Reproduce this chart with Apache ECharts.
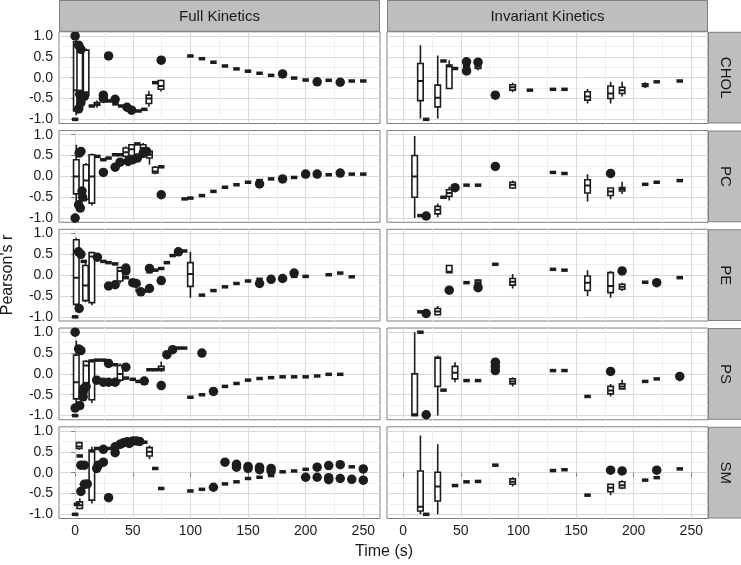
<!DOCTYPE html>
<html>
<head>
<meta charset="utf-8">
<script src="https://cdn.jsdelivr.net/npm/echarts@6.0.0/dist/echarts.min.js"></script>
<style>
html,body{margin:0;padding:0;background:#fff;}
#chart{width:741px;height:565px;}
</style>
</head>
<body>
<div id="chart"></div>
<script>
// ---------- labels / ticks ----------
const rowNames = ['CHOL', 'PC', 'PE', 'PS', 'SM'];
const colNames = ['Full Kinetics', 'Invariant Kinetics'];
const xTicks = [0, 50, 100, 150, 200, 250];
const yTicks = [-1, -0.5, 0, 0.5, 1];
const xTitle = 'Time (s)';
const yTitle = "Pearson's r";

// ---------- data: boxes [t, lower whisker, Q1, median, Q3, upper whisker] ----------
// flat = boxes with (almost) no spread [t, value]; pts = outliers [t, value]

// CHOL - Full
const cholFullBoxes = [[1,-0.9,-0.8,-0.3,0.86,0.9],[4,-0.85,-0.73,-0.5,0.78,0.85],[9.5,-0.5,-0.42,-0.35,0.66,0.7],
  [19,-0.72,-0.66,-0.64,-0.6,-0.55],[64,-0.7,-0.62,-0.5,-0.42,-0.32],[74.5,-0.33,-0.28,-0.2,-0.07,-0.05]];
const cholFullFlat = [[0,-1.0],[14.5,-0.68],[24.5,-0.52],[29,-0.56],[35,-0.63],[40,-0.68],[45,-0.72],[55,-0.8],[60,-0.76],
  [69.5,-0.12],[100,0.52],[110,0.455],[120,0.37],[130,0.28],[140,0.21],[150,0.155],[160,0.105],[170,0.056],[180,0.04],
  [190,-0.01],[200,-0.057],[210,-0.08],[220,-0.064],[230,-0.09],[240,-0.08],[250,-0.08]];
const cholFullPts = [[0,1.0],[3,0.78],[5,0.68],[4,-0.4],[6,-0.47],[3,-0.75],[5,-0.6],[8,-0.45],[29,0.52],[24.5,-0.42],
  [24.5,-0.5],[34.7,-0.52],[45,-0.71],[49,-0.78],[74.7,0.42],[180,0.09],[210,-0.1],[230,-0.11]];

// CHOL - Invariant
const cholInvBoxes = [[15,-0.98,-0.55,-0.08,0.34,0.78],[30,-0.98,-0.7,-0.48,-0.18,0.53],[40,-0.26,-0.26,0.27,0.3,0.42],
  [55,0.2,0.24,0.28,0.32,0.36],[65,0.18,0.22,0.26,0.3,0.33],[95,-0.35,-0.3,-0.23,-0.17,-0.12],
  [160,-0.62,-0.54,-0.45,-0.34,-0.27],[180,-0.62,-0.5,-0.38,-0.2,-0.1],[190,-0.45,-0.38,-0.3,-0.23,-0.1],
  [210,-0.25,-0.21,-0.18,-0.15,-0.11]];
const cholInvFlat = [[20,-1.0],[35,0.4],[45,0.22],[110,-0.3],[130,-0.28],[140,-0.28],[220,-0.1],[240,-0.08]];
const cholInvPts = [[55,0.38],[55,0.16],[65,0.37],[80,-0.42]];

// PC - Full
const pcFullBoxes = [[1,-0.75,-0.42,0.0,0.4,0.76],[4,-0.82,-0.8,-0.76,-0.72,-0.65],[9.5,-0.6,-0.55,-0.1,0.28,0.32],
  [14.5,-0.7,-0.64,0.0,0.52,0.55],[44,0.4,0.48,0.58,0.68,0.72],[49,0.45,0.5,0.65,0.76,0.78],
  [59,0.5,0.6,0.68,0.76,0.8],[64.5,0.28,0.44,0.52,0.6,0.65],[69.5,0.05,0.08,0.12,0.22,0.25]];
const pcFullFlat = [[19.3,0.48],[24.5,0.4],[29,0.44],[34.7,0.52],[39,0.52],[54,0.78],[74.7,0.23],[95,-0.54],[100,-0.52],
  [110,-0.46],[120,-0.36],[130,-0.26],[140,-0.2],[150,-0.14],[160,-0.1],[170,-0.06],[180,-0.07],[190,-0.025],
  [200,0.04],[210,0.05],[220,0.04],[230,0.06],[240,0.055],[250,0.055]];
const pcFullPts = [[0,-1.0],[3,-0.68],[4.5,-0.76],[3.5,0.56],[5,0.6],[6.5,-0.5],[6,-0.35],[24.5,0.095],[34.7,0.22],
  [39,0.34],[46,0.36],[50,0.4],[54,0.44],[59,0.55],[62,0.6],[74.7,-0.44],[160,-0.18],[180,-0.06],[200,0.055],
  [210,0.055],[230,0.08]];

// PC - Invariant
const pcInvBoxes = [[10,-1.0,-0.5,0.0,0.5,0.97],[30,-0.98,-0.9,-0.8,-0.72,-0.65],[40,-0.58,-0.48,-0.4,-0.32,-0.25],
  [95,-0.3,-0.28,-0.2,-0.14,-0.1],[160,-0.6,-0.4,-0.22,-0.08,0.05],[180,-0.55,-0.46,-0.36,-0.28,-0.28],
  [190,-0.42,-0.35,-0.3,-0.27,-0.13]];
const pcInvFlat = [[15,-0.94],[35,-0.5],[45,-0.3],[55,-0.21],[65,-0.21],[130,0.095],[140,0.07],[210,-0.19],[220,-0.14],[240,-0.1]];
const pcInvPts = [[20,-0.95],[45,-0.27],[80,0.24],[180,0.07]];

// PE - Full
const peFullBoxes = [[1,-0.75,-0.7,-0.06,0.85,0.9],[3.5,-0.85,-0.82,-0.78,-0.75,-0.72],[9,-0.65,-0.61,-0.25,0.23,0.3],
  [14.5,-0.72,-0.66,0.45,0.54,0.56],[39,-0.2,-0.14,0.1,0.18,0.2],[100,-0.54,-0.27,0.03,0.3,0.56]];
const peFullFlat = [[0,-1.0],[7.5,0.33],[19,0.45],[24.5,0.33],[29,0.3],[34.7,0.27],[44,-0.06],[50,-0.15],[55,-0.36],
  [60,-0.38],[64.5,0.08],[69.5,0.12],[74.7,0.16],[79.6,0.3],[84.6,0.47],[89.6,0.55],[94.6,0.58],[110,-0.48],
  [120,-0.37],[130,-0.28],[140,-0.2],[150,-0.14],[160,-0.1],[170,-0.12],[180,-0.1],[190,-0.03],[200,-0.03],
  [220,0.01],[230,0.05],[240,-0.04]];
const peFullPts = [[3,0.56],[5,0.5],[3.5,-0.8],[19.3,0.43],[29,-0.26],[34.7,-0.23],[44,0.1],[44,0.17],[50,-0.18],
  [53,-0.2],[57,-0.4],[64.5,-0.32],[64.5,0.16],[74.7,-0.13],[89.6,0.56],[160,-0.2],[170,-0.1],[180,-0.08],[190,0.05]];

// PE - Invariant
const peInvBoxes = [[30,-0.96,-0.95,-0.87,-0.8,-0.74],[40,0.06,0.06,0.08,0.23,0.23],[65,-0.25,-0.22,-0.17,-0.12,-0.1],
  [95,-0.32,-0.24,-0.16,-0.08,0.03],[160,-0.5,-0.37,-0.18,-0.02,0.12],[180,-0.54,-0.42,-0.26,0.06,0.1],
  [190,-0.38,-0.34,-0.28,-0.22,-0.18]];
const peInvFlat = [[15,-0.88],[55,-0.18],[80,0.26],[130,0.14],[140,0.12],[210,-0.17],[220,-0.16],[240,-0.06]];
const peInvPts = [[20,-0.92],[40,-0.36],[65,-0.3],[190,0.1],[220,-0.18]];

// PS - Full
const psFullBoxes = [[1,-0.75,-0.6,-0.2,0.45,0.8],[4,-0.85,-0.82,-0.8,-0.75,-0.7],[9.5,-0.45,-0.37,0.2,0.3,0.33],
  [14.5,-0.7,-0.62,0.3,0.33,0.36],[39,-0.2,-0.15,0.0,0.2,0.25],[74.7,0.05,0.08,0.12,0.18,0.3]];
const psFullFlat = [[0,-1.0],[19,0.33],[24.5,0.33],[29,0.3],[34.7,0.22],[44,-0.1],[50,-0.13],[55,-0.18],[60,-0.22],
  [64.5,0.1],[69.5,0.1],[84.6,0.62],[89.6,0.62],[94.6,0.62],[100,-0.56],[110,-0.5],[120,-0.42],[130,-0.3],
  [140,-0.23],[150,-0.15],[160,-0.11],[170,-0.09],[180,-0.07],[190,-0.07],[200,-0.07],[210,-0.05],[220,-0.01],[230,-0.01]];
const psFullPts = [[0,1.0],[0,-0.82],[3,0.6],[5,0.56],[4,-0.76],[7,-0.55],[7,-0.43],[7.5,-0.35],[9.5,-0.3],
  [18.7,-0.15],[24.5,-0.2],[29,-0.2],[34.7,-0.2],[29,0.25],[44,0.16],[60,-0.17],[74.7,-0.28],[79.6,0.46],
  [84.6,0.58],[110,0.5],[120,-0.42]];

// PS - Invariant
const psInvBoxes = [[10,-1.0,-1.0,-0.97,0.0,1.0],[30,-1.0,-0.3,0.38,0.4,0.44],[45,-0.2,-0.12,0.03,0.18,0.28],
  [95,-0.3,-0.24,-0.18,-0.12,-0.08],[180,-0.54,-0.48,-0.4,-0.3,-0.24],[190,-0.36,-0.36,-0.3,-0.24,-0.14]];
const psInvFlat = [[15,1.0],[35,-0.39],[55,-0.16],[65,-0.16],[130,0.08],[140,0.08],[160,-0.54],[210,-0.18],[220,-0.12]];
const psInvPts = [[20,-0.98],[80,0.28],[80,0.18],[80,0.08],[180,0.06],[240,-0.06]];

// SM - Full
const smFullBoxes = [[3.5,0.55,0.58,0.63,0.72,0.74],[4,-0.88,-0.86,-0.78,-0.7,-0.62],[14.5,-0.74,-0.66,0.5,0.54,0.62],
  [64.5,0.32,0.4,0.5,0.6,0.65]];
const smFullFlat = [[0,-1.0],[1.5,-0.76],[4,0.4],[19,0.58],[24.5,0.58],[29,0.58],[34.7,0.6],[60,0.73],[69.5,0.1],
  [74.7,-0.38],[100,-0.44],[110,-0.4],[130,-0.27],[140,-0.22],[150,-0.14],[160,-0.11],[170,-0.07],[180,0.02],
  [190,0.04],[200,0.08],[240,0.14]];
const smFullPts = [[5,0.18],[8,0.18],[5,-0.45],[8,-0.28],[10.5,-0.27],[18.7,0.1],[20,0.18],[24.5,0.25],[29,-0.6],
  [24.5,0.56],[34.7,0.62],[34.7,0.48],[39,0.68],[42,0.72],[45,0.74],[47,0.7],[50,0.76],[53,0.76],[56,0.75],
  [120,-0.35],[130,0.25],[140,0.2],[140,0.13],[150,0.15],[150,0.1],[160,0.13],[160,0.07],[170,0.1],[170,0.04],
  [200,-0.11],[210,-0.11],[210,0.13],[220,-0.12],[220,-0.17],[220,0.17],[230,0.19],[230,-0.14],[240,-0.16],
  [250,0.09],[250,-0.18]];

// SM - Invariant
const smInvBoxes = [[15,-1.0,-0.92,-0.82,0.04,0.89],[30,-1.0,-0.68,-0.33,0.01,0.68],[95,-0.33,-0.28,-0.22,-0.15,-0.11],
  [180,-0.54,-0.46,-0.36,-0.28,-0.28],[190,-0.4,-0.37,-0.3,-0.22,-0.18]];
const smInvFlat = [[20,-1.0],[45,-0.31],[55,-0.22],[65,-0.21],[80,0.18],[130,0.05],[140,0.07],[160,-0.54],
  [210,-0.18],[220,-0.12],[240,0.09]];
const smInvPts = [[180,0.06],[190,0.04],[220,0.06]];

const panelData = [
  [[cholFullBoxes, cholFullFlat, cholFullPts], [cholInvBoxes, cholInvFlat, cholInvPts]],
  [[pcFullBoxes, pcFullFlat, pcFullPts], [pcInvBoxes, pcInvFlat, pcInvPts]],
  [[peFullBoxes, peFullFlat, peFullPts], [peInvBoxes, peInvFlat, peInvPts]],
  [[psFullBoxes, psFullFlat, psFullPts], [psInvBoxes, psInvFlat, psInvPts]],
  [[smFullBoxes, smFullFlat, smFullPts], [smInvBoxes, smInvFlat, smInvPts]]
];

// ---------- layout ----------
const FONT = "'Liberation Sans', Arial, Helvetica, sans-serif";
const colLeft = [59, 387];
const panelW = 321;
const rowTop = [31.8, 130.55, 229.3, 328.05, 426.8];
const panelH = 91.7;
const INK = '#1c1c1c';

function renderBox(params, api) {
  const t = api.value(0);
  const lo = api.coord([t, api.value(1)]);
  const q1 = api.coord([t, api.value(2)]);
  const md = api.coord([t, api.value(3)]);
  const q3 = api.coord([t, api.value(4)]);
  const hi = api.coord([t, api.value(5)]);
  const x = lo[0], hw = 2.75;
  const ls = { stroke: INK, lineWidth: 1.6 };
  return {
    type: 'group',
    children: [
      { type: 'line', shape: { x1: x, y1: hi[1], x2: x, y2: q3[1] }, style: ls },
      { type: 'line', shape: { x1: x, y1: q1[1], x2: x, y2: lo[1] }, style: ls },
      { type: 'rect', shape: { x: x - hw, y: q3[1], width: 2 * hw, height: Math.max(q1[1] - q3[1], 1) },
        style: { fill: '#ffffff', stroke: INK, lineWidth: 1.6 } },
      { type: 'line', shape: { x1: x - hw, y1: md[1], x2: x + hw, y2: md[1] }, style: { stroke: INK, lineWidth: 2 } }
    ]
  };
}

const grids = [], xAxes = [], yAxes = [], series = [];
let gi = 0;
for (let r = 0; r < 5; r++) {
  for (let c = 0; c < 2; c++) {
    grids.push({ left: colLeft[c], top: rowTop[r], width: panelW, height: panelH, show: true,
      backgroundColor: '#ffffff', borderColor: '#7f7f7f', borderWidth: 1 });
    xAxes.push({
      gridIndex: gi, type: 'value', min: -14, max: 264.5,
      axisLine: { show: false },
      axisTick: { show: r === 4, length: 4, customValues: xTicks, lineStyle: { color: '#7f7f7f' } },
      axisLabel: { show: r === 4, customValues: xTicks, fontSize: 14, color: '#1a1a1a', margin: 6, fontFamily: FONT },
      splitLine: { show: true, lineStyle: { color: '#d9d9d9', width: 1 } },
      minorTick: { show: false, splitNumber: 2 },
      minorSplitLine: { show: true, lineStyle: { color: '#efefef', width: 1 } }
    });
    yAxes.push({
      gridIndex: gi, type: 'value', min: -1.1, max: 1.1,
      axisLine: { show: false },
      axisTick: { show: c === 0, length: 4, customValues: yTicks, lineStyle: { color: '#7f7f7f' } },
      axisLabel: { show: c === 0, customValues: yTicks, fontSize: 14, color: '#1a1a1a', margin: 6, fontFamily: FONT,
        formatter: v => v.toFixed(1) },
      splitLine: { show: true, lineStyle: { color: '#d9d9d9', width: 1 } },
      minorTick: { show: false, splitNumber: 2 },
      minorSplitLine: { show: true, lineStyle: { color: '#efefef', width: 1 } }
    });
    const [boxes, flat, pts] = panelData[r][c];
    series.push({
      type: 'custom', xAxisIndex: gi, yAxisIndex: gi, data: boxes,
      encode: { x: 0, y: [1, 2, 3, 4, 5] }, renderItem: renderBox, clip: true, z: 3, silent: true
    });
    series.push({
      type: 'scatter', xAxisIndex: gi, yAxisIndex: gi, data: flat, symbol: 'rect', symbolSize: [6.5, 3.5],
      itemStyle: { color: INK, opacity: 1 }, z: 4, silent: true
    });
    series.push({
      type: 'scatter', xAxisIndex: gi, yAxisIndex: gi, data: pts, symbol: 'circle', symbolSize: 9.5,
      itemStyle: { color: INK, opacity: 1 }, z: 5, silent: true
    });
    gi++;
  }
}

const graphics = [];
// top strips
for (let c = 0; c < 2; c++) {
  graphics.push({ type: 'rect', shape: { x: colLeft[c] + 0.5, y: 0.5, width: panelW - 1, height: 30.8 },
    style: { fill: '#bebebe', stroke: '#7f7f7f', lineWidth: 1 }, z: 10 });
  graphics.push({ type: 'text', x: colLeft[c] + panelW / 2, y: 16.5,
    style: { text: colNames[c], fontSize: 15, fill: '#1a1a1a', align: 'center', verticalAlign: 'middle', fontFamily: FONT }, z: 11 });
}
// right strips
for (let r = 0; r < 5; r++) {
  graphics.push({ type: 'rect', shape: { x: 708.5, y: rowTop[r] + 0.5, width: 33, height: panelH - 1 },
    style: { fill: '#bebebe', stroke: '#7f7f7f', lineWidth: 1 }, z: 10 });
  graphics.push({ type: 'text', x: 725, y: rowTop[r] + panelH / 2, rotation: -Math.PI / 2,
    style: { text: rowNames[r], fontSize: 15, fill: '#1a1a1a', align: 'center', verticalAlign: 'middle', fontFamily: FONT }, z: 11 });
}
// axis titles
graphics.push({ type: 'text', x: 384, y: 552,
  style: { text: xTitle, fontSize: 16, fill: '#1a1a1a', align: 'center', verticalAlign: 'middle', fontFamily: FONT } });
graphics.push({ type: 'text', x: 8, y: 275, rotation: Math.PI / 2,
  style: { text: yTitle, fontSize: 16, fill: '#1a1a1a', align: 'center', verticalAlign: 'middle', fontFamily: FONT } });

const chart = echarts.init(document.getElementById('chart'), null, { renderer: 'canvas' });
chart.setOption({
  backgroundColor: '#ffffff',
  animation: false,
  textStyle: { fontFamily: FONT },
  grid: grids,
  xAxis: xAxes,
  yAxis: yAxes,
  series: series,
  graphic: graphics
});
</script>
</body>
</html>
